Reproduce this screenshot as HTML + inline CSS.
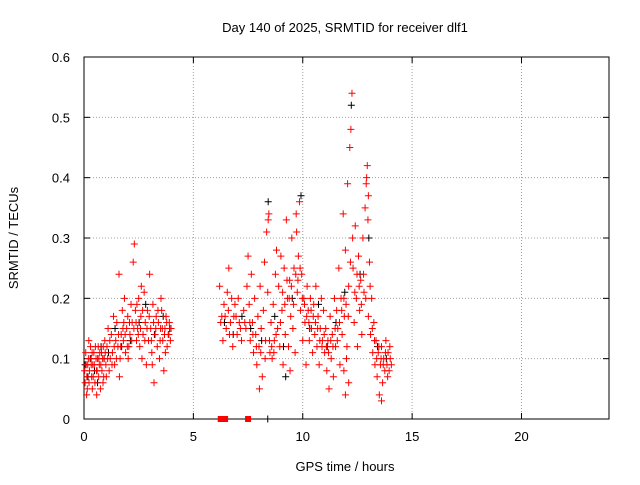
<!DOCTYPE html>
<html><head><meta charset="utf-8"><style>
body{margin:0;background:#fff;font-family:"Liberation Sans",sans-serif}
svg text{font-family:"Liberation Sans",sans-serif;font-size:13px;fill:#000}
</style></head><body>
<svg id="chart" width="640" height="480">
<g id="grid"></g>
<g id="axes"></g>
<g id="pts"></g>
<text x="345" y="32" text-anchor="middle">Day 140 of 2025, SRMTID for receiver dlf1</text>
<text x="345" y="471" text-anchor="middle">GPS time / hours</text>
<text transform="translate(18,238) rotate(-90)" text-anchor="middle">SRMTID / TECUs</text>
</svg>
<script>
const xTicks=[0,5,10,15,20];
const yTicks=[0,0.1,0.2,0.3,0.4,0.5,0.6];
const yTickLabels=["0","0.1","0.2","0.3","0.4","0.5","0.6"];
const redData="0.05,0.06 0.1,0.09 0.15,0.05 0.2,0.1 0.25,0.08 0.3,0.12 0.35,0.07 0.4,0.09 0.45,0.11 0.5,0.06 0.55,0.1 0.6,0.08 0.65,0.12 0.7,0.09 0.75,0.05 0.8,0.11 0.85,0.1 0.9,0.07 0.95,0.13 1.0,0.09 0.12,0.04 0.22,0.13 0.38,0.05 0.58,0.04 0.68,0.1 0.88,0.12 1.05,0.12 1.1,0.15 1.15,0.08 1.2,0.1 1.25,0.14 1.3,0.11 1.35,0.17 1.4,0.09 1.45,0.13 1.5,0.16 1.55,0.12 1.6,0.24 1.65,0.1 1.7,0.14 1.75,0.18 1.8,0.13 1.85,0.2 1.9,0.11 1.95,0.15 2.0,0.17 2.05,0.12 2.1,0.14 2.15,0.19 2.2,0.16 2.25,0.26 2.3,0.29 2.35,0.18 2.4,0.13 2.45,0.15 2.5,0.2 2.55,0.12 2.6,0.17 2.65,0.1 2.7,0.14 2.75,0.21 2.8,0.16 2.85,0.09 2.9,0.18 2.95,0.13 3.0,0.24 3.05,0.15 3.1,0.11 3.15,0.19 3.2,0.06 3.25,0.14 3.3,0.17 3.35,0.12 3.4,0.16 3.45,0.1 3.5,0.15 3.55,0.18 3.6,0.13 3.65,0.08 3.7,0.15 3.75,0.17 3.8,0.12 3.85,0.14 3.9,0.16 3.95,0.13 1.62,0.07 2.02,0.1 2.62,0.22 3.12,0.09 3.72,0.11 1.82,0.16 2.42,0.19 3.52,0.2 6.2,0.22 6.3,0.17 6.35,0.13 6.4,0.19 6.5,0.15 6.55,0.21 6.6,0.18 6.7,0.16 6.75,0.2 6.8,0.12 6.85,0.17 6.9,0.19 7.0,0.14 7.05,0.2 7.1,0.16 7.2,0.13 7.3,0.18 7.4,0.15 7.45,0.22 7.5,0.27 7.55,0.19 7.6,0.13 7.65,0.24 7.7,0.16 7.75,0.11 7.8,0.2 7.85,0.14 7.9,0.09 7.95,0.17 8.0,0.12 8.05,0.22 8.1,0.15 8.15,0.07 8.2,0.18 8.25,0.26 8.3,0.13 8.35,0.31 8.4,0.21 8.45,0.34 8.5,0.11 8.55,0.16 8.6,0.1 8.65,0.19 8.7,0.13 8.75,0.24 8.8,0.28 8.85,0.15 8.9,0.22 8.95,0.12 9.0,0.27 9.05,0.18 9.1,0.09 9.15,0.25 9.2,0.14 9.25,0.33 9.3,0.2 9.35,0.12 9.4,0.23 9.45,0.17 9.5,0.3 9.55,0.15 9.6,0.25 9.65,0.11 9.7,0.34 9.75,0.21 9.8,0.27 9.85,0.36 9.9,0.18 9.95,0.24 10.0,0.13 10.05,0.2 10.1,0.16 10.15,0.09 10.2,0.22 10.25,0.18 10.3,0.13 10.35,0.2 10.4,0.15 10.45,0.11 10.5,0.19 10.55,0.14 10.6,0.22 10.65,0.12 10.7,0.17 10.75,0.09 10.8,0.15 10.85,0.2 10.9,0.13 10.95,0.18 11.0,0.11 11.05,0.15 11.1,0.08 11.15,0.13 11.2,0.05 11.25,0.17 11.3,0.1 11.35,0.14 11.4,0.07 11.45,0.2 11.5,0.12 11.55,0.18 11.6,0.15 11.65,0.25 11.7,0.09 11.75,0.2 11.8,0.14 11.85,0.34 11.9,0.17 11.95,0.28 12.0,0.1 12.05,0.39 12.1,0.22 12.15,0.45 12.2,0.48 12.25,0.54 12.3,0.25 12.35,0.16 12.4,0.32 12.45,0.2 12.5,0.12 12.55,0.27 12.6,0.18 12.65,0.23 12.7,0.14 12.75,0.3 12.8,0.21 12.85,0.35 12.9,0.39 12.95,0.42 13.0,0.17 13.05,0.26 13.1,0.14 13.15,0.2 13.2,0.11 13.25,0.16 13.3,0.09 13.35,0.13 13.4,0.07 13.45,0.11 13.5,0.04 13.55,0.09 13.6,0.12 13.65,0.06 13.7,0.1 13.75,0.08 13.8,0.13 13.85,0.09 13.9,0.11 13.95,0.08 14.0,0.1 12.1,0.06 11.95,0.04 13.6,0.03 8.02,0.05 9.42,0.08 6.62,0.25";
const redExtra="0.03,0.08 0.08,0.11 0.13,0.07 0.17,0.09 0.23,0.06 0.28,0.1 0.33,0.09 0.37,0.11 0.42,0.07 0.47,0.09 0.52,0.12 0.57,0.08 0.62,0.1 0.67,0.07 0.72,0.11 0.77,0.09 0.82,0.08 0.87,0.06 0.92,0.1 0.97,0.11 1.02,0.07 1.08,0.1 1.18,0.13 1.28,0.09 1.38,0.12 1.48,0.1 1.58,0.14 1.68,0.12 1.78,0.15 1.88,0.14 1.98,0.12 2.08,0.16 2.18,0.13 2.28,0.15 2.38,0.16 2.48,0.14 2.58,0.15 2.68,0.18 2.78,0.13 2.88,0.15 2.98,0.17 3.08,0.13 3.18,0.16 3.28,0.15 3.38,0.18 3.48,0.13 3.58,0.15 3.68,0.14 3.78,0.16 3.88,0.14 3.98,0.15 6.25,0.16 6.45,0.17 6.65,0.14 6.95,0.17 7.15,0.15 7.35,0.16 7.58,0.16 7.72,0.14 7.88,0.12 8.08,0.11 8.28,0.1 8.48,0.13 8.58,0.12 8.68,0.11 8.78,0.14 8.98,0.16 9.08,0.21 9.18,0.19 9.28,0.23 9.38,0.2 9.48,0.22 9.58,0.19 9.68,0.24 9.78,0.23 9.88,0.25 9.98,0.2 10.08,0.19 10.18,0.17 10.28,0.16 10.38,0.18 10.48,0.17 10.58,0.16 10.68,0.15 10.78,0.13 10.88,0.12 10.98,0.14 11.08,0.12 11.18,0.11 11.28,0.13 11.38,0.12 11.48,0.15 11.58,0.13 11.68,0.16 11.78,0.18 11.88,0.2 11.98,0.19 12.08,0.17 12.18,0.26 12.28,0.3 12.38,0.21 12.48,0.24 12.58,0.22 12.68,0.19 12.78,0.24 12.88,0.2 12.98,0.33 13.08,0.22 13.18,0.15 13.28,0.13 13.38,0.1 13.48,0.12 13.58,0.1 13.68,0.09 13.78,0.11 13.88,0.07 13.98,0.12 14.05,0.09 8.42,0.33 9.72,0.31 11.88,0.08 12.02,0.12 13.0,0.37 12.92,0.4";
const blackData="0.05,0.09 0.18,0.07 0.32,0.1 0.48,0.08 0.62,0.06 0.78,0.12 0.92,0.1 1.12,0.11 1.42,0.15 1.72,0.12 2.12,0.13 2.52,0.16 2.82,0.19 3.22,0.14 3.62,0.17 3.92,0.15 6.42,0.16 6.82,0.14 7.22,0.17 7.62,0.15 8.12,0.13 8.42,0.36 8.72,0.17 9.12,0.12 9.52,0.2 9.92,0.37 10.32,0.15 10.72,0.19 11.12,0.12 11.52,0.16 11.92,0.21 12.22,0.52 12.62,0.24 13.02,0.3 13.42,0.12 13.82,0.1 9.22,0.07";
const zeroRed=[6.25,6.45,7.5];
const zeroBlack=[8.4];
const X0=84,X1=609,Y0=419,Y1=57;
const sx=v=>X0+v/24*(X1-X0), sy=v=>Y0-v/0.6*(Y0-Y1);
const NS="http://www.w3.org/2000/svg";
function mk(tag,at,parent){const e=document.createElementNS(NS,tag);for(const k in at)e.setAttribute(k,at[k]);parent.appendChild(e);return e;}
const grid=document.getElementById('grid'),axes=document.getElementById('axes'),pts=document.getElementById('pts');
xTicks.forEach(t=>{const x=sx(t);
 if(t>0){const g=mk('line',{x1:x,x2:x,y1:Y1,y2:Y0,stroke:'#a0a0a0','stroke-dasharray':'1,2'},grid);}
 const tl=mk('line',{x1:x,x2:x,y1:Y0,y2:Y0-6,stroke:'#000'},axes);
 const tt=mk('line',{x1:x,x2:x,y1:Y1,y2:Y1+6,stroke:'#000'},axes);
 const lb=mk('text',{x:x,y:Y0+22,'text-anchor':'middle'},axes);lb.textContent=t;});
yTicks.forEach((t,i)=>{const y=sy(t);
 if(i>0&&i<yTicks.length-1){const g=mk('line',{x1:X0,x2:X1,y1:y,y2:y,stroke:'#a0a0a0','stroke-dasharray':'1,2'},grid);}
 const tl=mk('line',{x1:X0,x2:X0+6,y1:y,y2:y,stroke:'#000'},axes);
 const tr=mk('line',{x1:X1,x2:X1-6,y1:y,y2:y,stroke:'#000'},axes);
 const lb=mk('text',{x:X0-14,y:y+5,'text-anchor':'end'},axes);lb.textContent=yTickLabels[i];});
const fr=mk('rect',{x:X0,y:Y1,width:X1-X0,height:Y0-Y1,fill:'none',stroke:'#000'},axes);

function plus(t,v,c){const x=sx(t),y=sy(v);const p=mk('path',{d:`M${x-3.5},${y}h7M${x},${y-3.5}v7`,stroke:c,'stroke-width':1,fill:'none'},pts);
 }
blackData.split(' ').forEach(s=>{const [t,v]=s.split(',').map(Number);plus(t,v,'#000');});
redData.split(' ').forEach(s=>{const [t,v]=s.split(',').map(Number);plus(t,v,'#ff0000');});
redExtra.split(' ').forEach(s=>{const [t,v]=s.split(',').map(Number);plus(t,v,'#ff0000');});
zeroBlack.forEach(t=>plus(t,0,'#000'));
zeroRed.forEach(t=>{const x=sx(t),y=sy(0);const r=mk('rect',{x:x-3,y:y-3,width:6,height:6,fill:'#ff0000'},pts);
 });
</script>
</body></html>
